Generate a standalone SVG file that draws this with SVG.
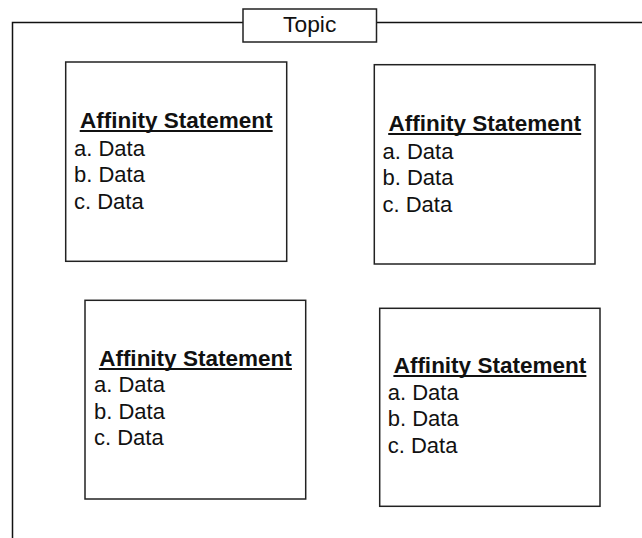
<svg xmlns="http://www.w3.org/2000/svg" width="642" height="538" viewBox="0 0 642 538">
  <style>
    .frame { fill: none; stroke: #111; stroke-width: 1.5; }
    .card { fill: #fff; stroke: #222; stroke-width: 1.5; }
    .title { font-family: Arial, "Liberation Sans", Helvetica, sans-serif; font-size: 22.8px; fill: #111; text-anchor: middle; }
    .head { font-family: Arial, "Liberation Sans", Helvetica, sans-serif; font-size: 22.5px; font-weight: bold; fill: #111; text-anchor: middle; }
    .item { font-family: Arial, "Liberation Sans", Helvetica, sans-serif; font-size: 22px; fill: #111; }
    .rule { stroke: #111; stroke-width: 2; }
  </style>
  <rect width="642" height="538" fill="#fff"/>

  <!-- outer topic frame, open at bottom and right -->
  <g id="frame">
    <path class="frame" d="M12.5,538 V22.5 H243 M376.5,22.5 H642"/>
  </g>

  <g id="topic">
    <rect class="card" x="243" y="9" width="133.5" height="33"/>
    <text class="title" x="309.7" y="32">Topic</text>
  </g>

  <!-- each card: heading with a drawn underline, then three data rows -->
  <g id="card1">
    <rect class="card" x="65.7" y="62" width="221" height="199.3"/>
    <text class="head" x="176.2" y="128">Affinity Statement</text>
    <line class="rule" x1="79.7" y1="131" x2="272.7" y2="131"/>
    <text class="item" x="74" y="155.5">a. Data</text>
    <text class="item" x="74" y="182">b. Data</text>
    <text class="item" x="74" y="208.5">c. Data</text>
  </g>

  <g id="card2">
    <rect class="card" x="374.3" y="64.7" width="220.7" height="199.3"/>
    <text class="head" x="484.7" y="131">Affinity Statement</text>
    <line class="rule" x1="388.2" y1="134" x2="581.2" y2="134"/>
    <text class="item" x="382.5" y="158.5">a. Data</text>
    <text class="item" x="382.5" y="185">b. Data</text>
    <text class="item" x="382.5" y="211.5">c. Data</text>
  </g>

  <g id="card3">
    <rect class="card" x="85" y="300.3" width="220.7" height="198.7"/>
    <text class="head" x="195.4" y="366">Affinity Statement</text>
    <line class="rule" x1="98.9" y1="369" x2="291.9" y2="369"/>
    <text class="item" x="94" y="392">a. Data</text>
    <text class="item" x="94" y="418.5">b. Data</text>
    <text class="item" x="94" y="445">c. Data</text>
  </g>

  <g id="card4">
    <rect class="card" x="379.7" y="308.3" width="220.3" height="198"/>
    <text class="head" x="489.9" y="373">Affinity Statement</text>
    <line class="rule" x1="393.4" y1="376" x2="586.4" y2="376"/>
    <text class="item" x="387.7" y="399.5">a. Data</text>
    <text class="item" x="387.7" y="426">b. Data</text>
    <text class="item" x="387.7" y="452.5">c. Data</text>
  </g>

  <g id="connectors"/>
</svg>
